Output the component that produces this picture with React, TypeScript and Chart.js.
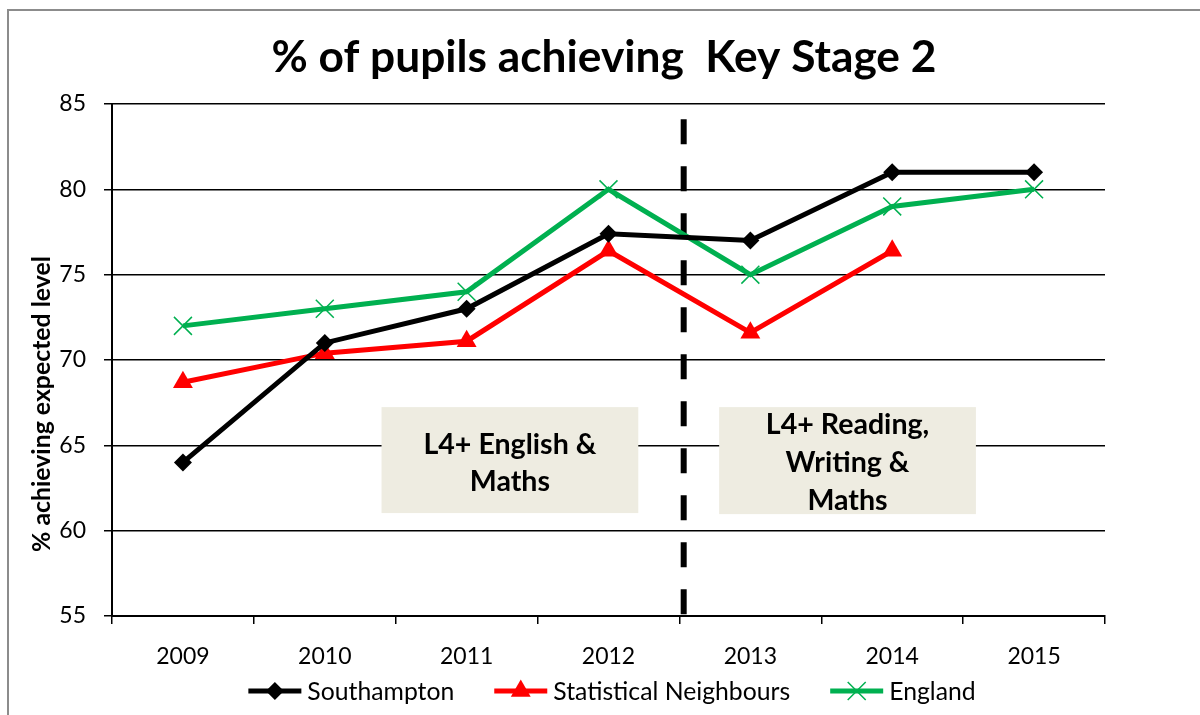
import React, { useEffect, useRef } from "react";
import { Chart, registerables } from "chart.js";

Chart.register(...registerables);

const years = ["2009", "2010", "2011", "2012", "2013", "2014", "2015"];
const southampton = [64, 71, 73, 77.4, 77, 81, 81];
const statNeighbours = [68.7, 70.4, 71.1, 76.4, 71.6, 76.4, null];
const england = [72, 73, 74, 80, 75, 79, 80];

const yMin = 55;
const yMax = 85;
const yStep = 5;

const titleText = "% of pupils achieving  Key Stage 2";
const yTitleText = "% achieving expected level";
const seriesNames = ["Southampton", "Statistical Neighbours", "England"];
const seriesColors = ["#000000", "#FF0000", "#00B050"];
const box1Lines = ["L4+ English &", "Maths"];
const box2Lines = ["L4+ Reading,", "Writing &", "Maths"];

const FONT = "Lato, 'Open Sans', sans-serif";

function fitSize(ctx: CanvasRenderingContext2D, text: string, weight: string, target: number) {
  ctx.font = `${weight} 100px ${FONT}`;
  const w = ctx.measureText(text).width;
  return (100 * target) / w;
}

const decorPlugin = {
  id: "decor",
  beforeDatasetsDraw(chart: any) {
    const ctx: CanvasRenderingContext2D = chart.ctx;
    const xs = chart.scales.x;
    const ys = chart.scales.y;
    // dashed divider
    ctx.save();
    ctx.strokeStyle = "#000";
    ctx.lineWidth = 6;
    ctx.setLineDash([25, 22]);
    const dx = xs.getPixelForValue(3.53);
    ctx.beginPath();
    ctx.moveTo(dx, ys.getPixelForValue(84.1));
    ctx.lineTo(dx, ys.getPixelForValue(55));
    ctx.stroke();
    ctx.restore();

    // boxes
    const boxes = [
      { x0: 1.4, x1: 3.21, y0: 67.24, y1: 61.03, lines: box1Lines, lh: 37, dy: 3 },
      { x0: 3.78, x1: 5.59, y0: 67.24, y1: 60.97, lines: box2Lines, lh: 38, dy: 2 },
    ];
    const fs = fitSize(ctx, box1Lines[0], "bold", 173);
    boxes.forEach((b) => {
      const l = xs.getPixelForValue(b.x0);
      const r = xs.getPixelForValue(b.x1);
      const t = ys.getPixelForValue(b.y0);
      const bt = ys.getPixelForValue(b.y1);
      ctx.save();
      ctx.fillStyle = "#EEECE1";
      ctx.fillRect(l, t, r - l, bt - t);
      ctx.fillStyle = "#000";
      ctx.font = `bold ${fs}px ${FONT}`;
      ctx.textAlign = "center";
      ctx.textBaseline = "middle";
      const cx = (l + r) / 2;
      const cy = (t + bt) / 2 + b.dy;
      const n = b.lines.length;
      b.lines.forEach((line, i) => {
        ctx.fillText(line, cx, cy + (i - (n - 1) / 2) * b.lh);
      });
      ctx.restore();
    });
  },
  afterDraw(chart: any) {
    const ctx: CanvasRenderingContext2D = chart.ctx;
    ctx.save();
    // frame
    ctx.strokeStyle = "#8C8C8C";
    ctx.lineWidth = 2;
    ctx.strokeRect(8, 10, 1400, 900);

    // title
    const ts = fitSize(ctx, titleText, "bold", 665);
    ctx.font = `bold ${ts}px ${FONT}`;
    ctx.fillStyle = "#000";
    ctx.textAlign = "center";
    ctx.textBaseline = "alphabetic";
    ctx.fillText(titleText, 604, 72);

    // y title
    const ys = fitSize(ctx, yTitleText, "bold", 296);
    ctx.save();
    ctx.translate(42, 404);
    ctx.rotate(-Math.PI / 2);
    ctx.font = `bold ${ys}px ${FONT}`;
    ctx.textBaseline = "middle";
    ctx.fillText(yTitleText, 0, 0);
    ctx.restore();

    // legend
    const ls = fitSize(ctx, seriesNames[0], "normal", 147);
    ctx.font = `normal ${ls}px ${FONT}`;
    ctx.textAlign = "left";
    ctx.textBaseline = "middle";
    const lineLen = 53;
    const gap = 6;
    const itemGap = 40;
    const widths = seriesNames.map((n) => lineLen + gap + ctx.measureText(n).width);
    const total = widths.reduce((a, b) => a + b, 0) + itemGap * (seriesNames.length - 1);
    let x = 612 - total / 2;
    const y = 691;
    seriesNames.forEach((name, i) => {
      const c = seriesColors[i];
      ctx.strokeStyle = c;
      ctx.fillStyle = c;
      ctx.lineWidth = 5;
      ctx.beginPath();
      ctx.moveTo(x, y);
      ctx.lineTo(x + lineLen, y);
      ctx.stroke();
      const mx = x + lineLen / 2;
      if (i === 0) {
        ctx.beginPath();
        ctx.moveTo(mx, y - 9);
        ctx.lineTo(mx + 9, y);
        ctx.lineTo(mx, y + 9);
        ctx.lineTo(mx - 9, y);
        ctx.closePath();
        ctx.fill();
      } else if (i === 1) {
        const r = 11.5;
        ctx.beginPath();
        ctx.moveTo(mx, y - r);
        ctx.lineTo(mx + r * Math.sin(Math.PI / 3), y + r / 2);
        ctx.lineTo(mx - r * Math.sin(Math.PI / 3), y + r / 2);
        ctx.closePath();
        ctx.fill();
      } else {
        ctx.lineWidth = 1.5;
        ctx.beginPath();
        ctx.moveTo(mx - 9, y - 9);
        ctx.lineTo(mx + 9, y + 9);
        ctx.moveTo(mx + 9, y - 9);
        ctx.lineTo(mx - 9, y + 9);
        ctx.stroke();
      }
      ctx.fillStyle = "#000";
      ctx.fillText(name, x + lineLen + gap, y + 1);
      x += widths[i] + itemGap;
    });
    ctx.restore();
  },
};

export default function App() {
  const ref = useRef<HTMLCanvasElement | null>(null);
  useEffect(() => {
    if (!ref.current) return;
    const chart = new Chart(ref.current, {
      type: "line",
      data: {
        labels: years,
        datasets: [
          {
            label: seriesNames[0],
            data: southampton,
            borderColor: seriesColors[0],
            backgroundColor: seriesColors[0],
            borderWidth: 5,
            pointStyle: "rectRot",
            pointRadius: 9,
            pointBorderWidth: 0,
            tension: 0,
          },
          {
            label: seriesNames[1],
            data: statNeighbours,
            borderColor: seriesColors[1],
            backgroundColor: seriesColors[1],
            borderWidth: 5,
            pointStyle: "triangle",
            pointRadius: 11.5,
            pointBorderWidth: 0,
            tension: 0,
          },
          {
            label: seriesNames[2],
            data: england,
            borderColor: seriesColors[2],
            backgroundColor: seriesColors[2],
            borderWidth: 5,
            pointStyle: "crossRot",
            pointRadius: 12.7,
            pointBorderWidth: 1.5,
            tension: 0,
          },
        ],
      },
      options: {
        responsive: false,
        animation: false,
        layout: { padding: { left: 0, right: 95, top: 104, bottom: 39 } },
        plugins: {
          legend: { display: false },
          title: { display: false },
          tooltip: { enabled: false },
        },
        scales: {
          x: {
            offset: true,
            grid: {
              offset: true,
              drawOnChartArea: false,
              color: "#000",
              lineWidth: 1.5,
              tickLength: 8,
            },
            border: { color: "#000", width: 2 },
            ticks: {
              color: "#000",
              font: { family: FONT, size: 23 },
              padding: 19,
              maxRotation: 0,
            },
            afterFit: (s: any) => {
              s.height = 60;
            },
          },
          y: {
            min: yMin,
            max: yMax,
            ticks: {
              stepSize: yStep,
              color: "#000",
              font: { family: FONT, size: 23 },
              padding: 18,
            },
            grid: { color: "#000", lineWidth: 1.5, tickLength: 8 },
            border: { color: "#000", width: 2 },
            afterFit: (s: any) => {
              s.width = 112;
            },
          },
        },
      },
      plugins: [decorPlugin],
    });
    return () => chart.destroy();
  }, []);
  return (
    <div style={{ position: "absolute", left: 0, top: 0, width: 1200, height: 715, background: "#fff" }}>
      <canvas ref={ref} width={1200} height={715} style={{ display: "block" }} />
    </div>
  );
}
